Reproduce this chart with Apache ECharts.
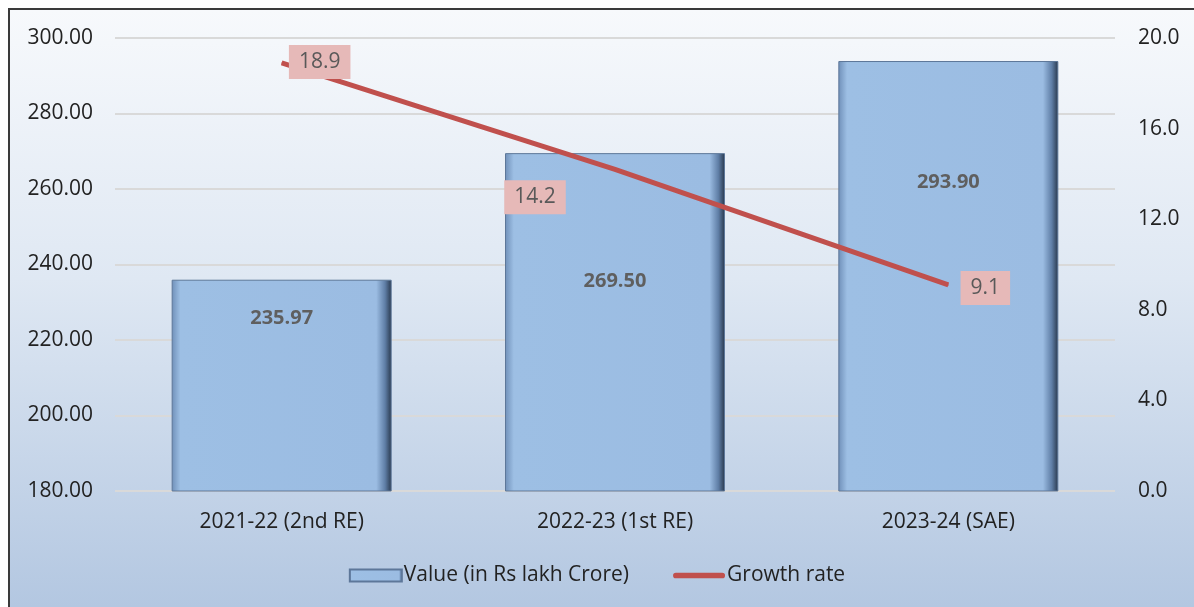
<!DOCTYPE html>
<html>
<head>
<meta charset="utf-8">
<script src="https://cdn.jsdelivr.net/npm/echarts@6/dist/echarts.min.js"></script>
<style>
  html, body { margin: 0; padding: 0; background: #fff; }
  #frame {
    position: absolute; left: 8px; top: 8px; width: 1186px; height: 599px;
    box-sizing: border-box; border: 2px solid #3a3a3a; border-right: none; border-bottom: none;
    background: linear-gradient(to bottom, #f7f9fc 0%, #dfe8f3 45%, #b3c7e1 100%);
  }
  #chart { position: absolute; left: 0; top: 0; width: 1194px; height: 607px; }
</style>
</head>
<body>
<div id="frame"></div>
<div id="chart"></div>
<script>
const categories = ['2021-22 (2nd RE)', '2022-23 (1st RE)', '2023-24 (SAE)']
const values = [235.97, 269.50, 293.90]
const growth = [18.9, 14.2, 9.1]
const leftTicks = [180, 300, 20]
const rightTicks = [0, 20, 4]

// where the labels sit (Excel had them moved by hand)
const barLabelOffset = [24, 113, 106]
const growthLabelPos = [[38, -1], [-80, 28], [37, 3]]

const font = '"Open Sans", sans-serif'

const chart = echarts.init(document.getElementById('chart'))

const barData = values.map((v, i) => ({
  value: v,
  label: { offset: [0, barLabelOffset[i]] }
}))
const lineData = growth.map((v, i) => ({
  value: v,
  label: { offset: growthLabelPos[i] }
}))

// thin rounded bar for the line legend, padded top/bottom so it is not stretched
const lineIcon = 'path://M0,0L0.01,0Z M0,12L0.01,12Z M3,3L52,3A3,3,0,0,1,52,9L3,9A3,3,0,0,1,3,3Z'

chart.setOption({
  backgroundColor: 'transparent',
  textStyle: { fontFamily: font },
  grid: { left: 115, right: 79, top: 38, bottom: 116 },
  legend: {
    bottom: 16,
    left: 'center',
    itemGap: 44,
    itemWidth: 52,
    itemHeight: 12,
    textStyle: { fontSize: 21, color: '#222', fontFamily: font, padding: [0, 0, 0, -3] },
    data: [
      { name: 'Value (in Rs lakh Crore)', icon: 'rect' },
      { name: 'Growth rate', icon: lineIcon, itemStyle: { color: '#c0504d' } }
    ]
  },
  xAxis: {
    type: 'category',
    data: categories,
    axisLine: { show: false },
    axisTick: { show: false },
    axisLabel: { fontSize: 21, color: '#222', margin: 21, fontFamily: font }
  },
  yAxis: [
    {
      type: 'value',
      min: leftTicks[0],
      max: leftTicks[1],
      interval: leftTicks[2],
      axisLabel: {
        fontSize: 21, color: '#222', margin: 22, fontFamily: font,
        formatter: v => v.toFixed(2)
      },
      splitLine: { lineStyle: { color: '#d9d9d9', width: 2 } }
    },
    {
      type: 'value',
      min: rightTicks[0],
      max: rightTicks[1],
      interval: rightTicks[2],
      axisLabel: {
        fontSize: 21, color: '#222', margin: 23, fontFamily: font,
        formatter: v => v.toFixed(1)
      },
      splitLine: { show: false }
    }
  ],
  series: [
    {
      name: 'Value (in Rs lakh Crore)',
      type: 'bar',
      barWidth: '66%',
      data: barData,
      itemStyle: {
        color: {
          type: 'linear', x: 0, y: 0, x2: 1, y2: 0,
          colorStops: [
            { offset: 0, color: '#6f8fb8' },
            { offset: 0.04, color: '#9dbfe4' },
            { offset: 0.93, color: '#9bbce2' },
            { offset: 0.97, color: '#5f7ea6' },
            { offset: 1, color: '#27364a' }
          ]
        },
        borderColor: '#5d7799',
        borderWidth: 1
      },
      label: {
        show: true,
        position: 'insideTop',
        fontSize: 20,
        fontWeight: 'bold',
        color: '#5f5f5f',
        fontFamily: font,
        formatter: p => p.value.toFixed(2)
      },
      z: 2
    },
    {
      name: 'Growth rate',
      type: 'line',
      yAxisIndex: 1,
      data: lineData,
      symbol: 'circle',
      symbolSize: 1,
      lineStyle: { color: '#c0504d', width: 5 },
      itemStyle: { color: '#c0504d' },
      label: {
        show: true,
        position: 'inside',
        fontSize: 21,
        color: '#595959',
        fontFamily: font,
        backgroundColor: '#e6b9b8',
        padding: [7, 10, 6, 10],
        formatter: p => p.value.toFixed(1)
      },
      z: 3
    }
  ]
})
</script>
</body>
</html>
